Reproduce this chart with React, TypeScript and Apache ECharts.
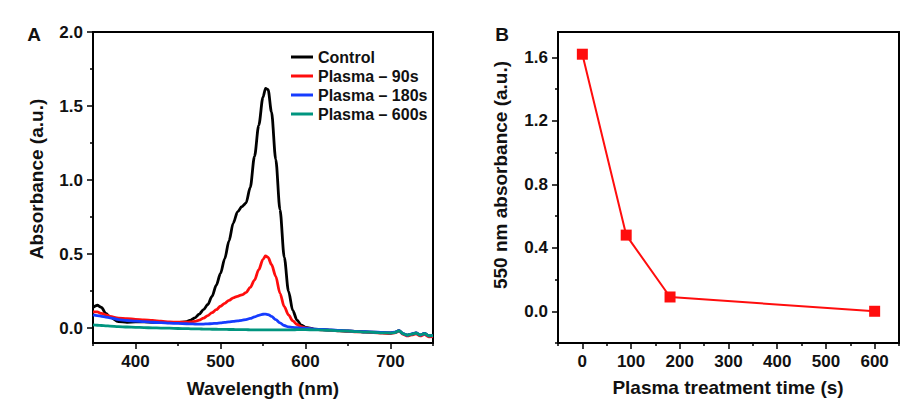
import React, { useEffect, useRef } from "react";
import * as echarts from "echarts";

// ---------- Panel A data ----------
const wavelengths = [
  350, 355, 360, 365, 370, 380, 390, 400, 410, 420, 430, 440, 450, 460, 465, 470, 475, 480, 485, 490, 495,
  500, 505, 510, 515, 520, 525, 530, 535, 540, 545, 550, 553, 556, 560, 565, 570, 575, 580, 585, 590, 595,
  600, 610, 620, 630, 640, 650, 660, 670, 680, 690, 700, 705, 710, 715, 720, 725, 730, 735, 740, 745, 750,
];
const control = [
  0.14, 0.155, 0.14, 0.1, 0.075, 0.045, 0.04, 0.042, 0.042, 0.04, 0.038, 0.037, 0.038, 0.045, 0.055, 0.07, 0.095, 0.125, 0.16, 0.215, 0.29,
  0.37, 0.47, 0.59, 0.71, 0.785, 0.82, 0.845, 0.95, 1.16, 1.37, 1.56, 1.62, 1.61, 1.46, 1.14, 0.8, 0.48, 0.25, 0.12, 0.055, 0.02,
  0.006, -0.006, -0.01, -0.013, -0.016, -0.019, -0.022, -0.025, -0.027, -0.03, -0.032, -0.028, -0.016, -0.038, -0.047, -0.04, -0.032, -0.047, -0.036, -0.052, -0.05,
];
const plasma90 = [
  0.11, 0.11, 0.1, 0.09, 0.08, 0.068, 0.064, 0.06, 0.056, 0.052, 0.047, 0.043, 0.04, 0.04, 0.042, 0.046, 0.055, 0.068, 0.085, 0.105, 0.125,
  0.148, 0.168, 0.188, 0.205, 0.215, 0.225, 0.24, 0.275, 0.325, 0.395, 0.465, 0.488, 0.478, 0.43, 0.35, 0.235, 0.145, 0.09, 0.05, 0.025, 0.01,
  0.002, -0.008, -0.012, -0.015, -0.018, -0.021, -0.024, -0.027, -0.03, -0.033, -0.036, -0.032, -0.02, -0.042, -0.052, -0.045, -0.038, -0.052, -0.042, -0.058, -0.057,
];
const plasma180 = [
  0.09, 0.085, 0.08, 0.075, 0.07, 0.058, 0.052, 0.048, 0.044, 0.04, 0.037, 0.034, 0.032, 0.03, 0.029, 0.028, 0.028, 0.028, 0.029, 0.031, 0.033,
  0.036, 0.039, 0.042, 0.046, 0.05, 0.053, 0.058, 0.066, 0.076, 0.087, 0.094, 0.095, 0.092, 0.08, 0.058, 0.036, 0.018, 0.009, 0.005, 0.003, 0.001,
  0.0, -0.006, -0.009, -0.012, -0.015, -0.018, -0.021, -0.024, -0.026, -0.029, -0.031, -0.027, -0.017, -0.037, -0.047, -0.039, -0.031, -0.046, -0.036, -0.052, -0.05,
];
const plasma600 = [
  0.022, 0.02, 0.018, 0.016, 0.014, 0.011, 0.008, 0.006, 0.004, 0.002, 0.001, 0.0, -0.002, -0.003, -0.004, -0.005, -0.005, -0.006, -0.006, -0.007, -0.007,
  -0.008, -0.008, -0.009, -0.009, -0.01, -0.01, -0.01, -0.011, -0.011, -0.011, -0.012, -0.012, -0.012, -0.012, -0.012, -0.012, -0.012, -0.011, -0.011, -0.01, -0.01,
  -0.01, -0.011, -0.013, -0.015, -0.018, -0.02, -0.023, -0.026, -0.028, -0.031, -0.033, -0.03, -0.018, -0.038, -0.047, -0.04, -0.033, -0.046, -0.037, -0.051, -0.05,
];
const seriesNamesA = ["Control", "Plasma \u2013 90s", "Plasma \u2013 180s", "Plasma \u2013 600s"];
const xTicksA = [400, 500, 600, 700];
const xMinorA = [350, 450, 550, 650, 750];
const yTicksA = [0, 0.5, 1.0, 1.5, 2.0];
const yMinorA = [0.25, 0.75, 1.25, 1.75];

// ---------- Panel B data ----------
const treatmentTimes = [0, 90, 180, 600];
const absorbance550 = [1.62, 0.48, 0.09, 0.0];
const xTicksB = [0, 100, 200, 300, 400, 500, 600];
const xMinorB = [-50, 50, 150, 250, 350, 450, 550, 650];
const yTicksB = [0, 0.4, 0.8, 1.2, 1.6];
const yMinorB = [-0.2, 0.2, 0.6, 1.0, 1.4];

const FONT = "'Liberation Sans', Arial, Helvetica, sans-serif";
const TXT = "#111";

function pairs(xs: number[], ys: number[]) {
  return xs.map((x, i) => [x, ys[i]]);
}

function majorAxis(opts: any) {
  return {
    type: "value",
    gridIndex: opts.grid,
    position: opts.position,
    min: opts.min,
    max: opts.max,
    axisLine: { show: true, onZero: false, lineStyle: { color: "#000", width: 2 } },
    axisTick: { show: true, customValues: opts.ticks, length: 6, lineStyle: { color: "#000", width: 1.5 } },
    axisLabel: {
      show: true,
      customValues: opts.ticks,
      margin: opts.margin,
      color: TXT,
      fontFamily: FONT,
      fontWeight: "bold",
      fontSize: 17,
      formatter: opts.formatter,
    },
    splitLine: { show: false },
  };
}

function minorAxis(opts: any) {
  return {
    type: "value",
    gridIndex: opts.grid,
    position: opts.position,
    min: opts.min,
    max: opts.max,
    axisLine: { show: false, onZero: false },
    axisTick: { show: true, customValues: opts.ticks, length: 3, lineStyle: { color: "#000", width: 1.5 } },
    axisLabel: { show: false },
    splitLine: { show: false },
  };
}

export default function App() {
  const ref = useRef<HTMLDivElement>(null);

  useEffect(() => {
    if (!ref.current) return;
    const chart = echarts.init(ref.current, undefined, { renderer: "svg" });
    const colorsA = ["#000000", "#ff0d0d", "#163cff", "#00957f"];
    const dataA = [control, plasma90, plasma180, plasma600];
    const oneDec = (v: number) => v.toFixed(1);

    const option: any = {
      animation: false,
      backgroundColor: "#ffffff",
      grid: [
        { left: 93, top: 32, width: 340, height: 311, show: true, borderColor: "#000", borderWidth: 2, backgroundColor: "transparent" },
        { left: 558, top: 32, width: 341, height: 311, show: true, borderColor: "#000", borderWidth: 2, backgroundColor: "transparent" },
      ],
      xAxis: [
        majorAxis({ grid: 0, position: "bottom", min: 350, max: 750, ticks: xTicksA, margin: 10 }),
        minorAxis({ grid: 0, position: "bottom", min: 350, max: 750, ticks: xMinorA }),
        majorAxis({ grid: 1, position: "bottom", min: -50, max: 650, ticks: xTicksB, margin: 10 }),
        minorAxis({ grid: 1, position: "bottom", min: -50, max: 650, ticks: xMinorB }),
      ],
      yAxis: [
        majorAxis({ grid: 0, position: "left", min: -0.1, max: 2.0, ticks: yTicksA, margin: 10, formatter: oneDec }),
        minorAxis({ grid: 0, position: "left", min: -0.1, max: 2.0, ticks: yMinorA }),
        majorAxis({ grid: 1, position: "left", min: -0.2, max: 1.76, ticks: yTicksB, margin: 10, formatter: oneDec }),
        minorAxis({ grid: 1, position: "left", min: -0.2, max: 1.76, ticks: yMinorB }),
      ],
      legend: {
        show: true,
        orient: "vertical",
        left: 286,
        top: 44,
        itemWidth: 22,
        itemHeight: 3,
        itemGap: 3,
        icon: "rect",
        data: seriesNamesA,
        selectedMode: false,
        textStyle: { fontFamily: FONT, fontWeight: "bold", fontSize: 16, color: TXT, lineHeight: 16 },
      },
      series: [
        ...dataA.map((d, i) => ({
          name: seriesNamesA[i],
          type: "line",
          xAxisIndex: 0,
          yAxisIndex: 0,
          data: pairs(wavelengths, d),
          showSymbol: false,
          symbol: "none",
          smooth: 0.3,
          smoothMonotone: "x",
          color: colorsA[i],
          lineStyle: { color: colorsA[i], width: 2.8 },
          z: 2 + i,
        })),
        {
          name: "550 nm",
          type: "line",
          xAxisIndex: 2,
          yAxisIndex: 2,
          data: pairs(treatmentTimes, absorbance550),
          symbol: "rect",
          symbolSize: 11,
          color: "#ff0d0d",
          itemStyle: { color: "#ff0d0d" },
          lineStyle: { color: "#ff0d0d", width: 2 },
        },
      ],
      graphic: [
        { type: "text", x: 34, y: 34, style: { text: "A", font: `bold 19px ${FONT}`, fill: TXT, align: "center", verticalAlign: "middle" } },
        { type: "text", x: 502, y: 34, style: { text: "B", font: `bold 19px ${FONT}`, fill: TXT, align: "center", verticalAlign: "middle" } },
        {
          type: "text", x: 36, y: 179, rotation: Math.PI / 2,
          style: { text: "Absorbance (a.u.)", font: `bold 19px ${FONT}`, fill: TXT, align: "center", verticalAlign: "middle" },
        },
        {
          type: "text", x: 263, y: 388,
          style: { text: "Wavelength (nm)", font: `bold 19px ${FONT}`, fill: TXT, align: "center", verticalAlign: "middle" },
        },
        {
          type: "text", x: 500, y: 175, rotation: Math.PI / 2,
          style: { text: "550 nm absorbance (a.u.)", font: `bold 19px ${FONT}`, fill: TXT, align: "center", verticalAlign: "middle" },
        },
        {
          type: "text", x: 728, y: 387,
          style: { text: "Plasma treatment time (s)", font: `bold 19px ${FONT}`, fill: TXT, align: "center", verticalAlign: "middle" },
        },
      ],
    };
    chart.setOption(option);
    return () => chart.dispose();
  }, []);

  return <div ref={ref} style={{ position: "fixed", left: 0, top: 0, width: 907, height: 403 }} />;
}
